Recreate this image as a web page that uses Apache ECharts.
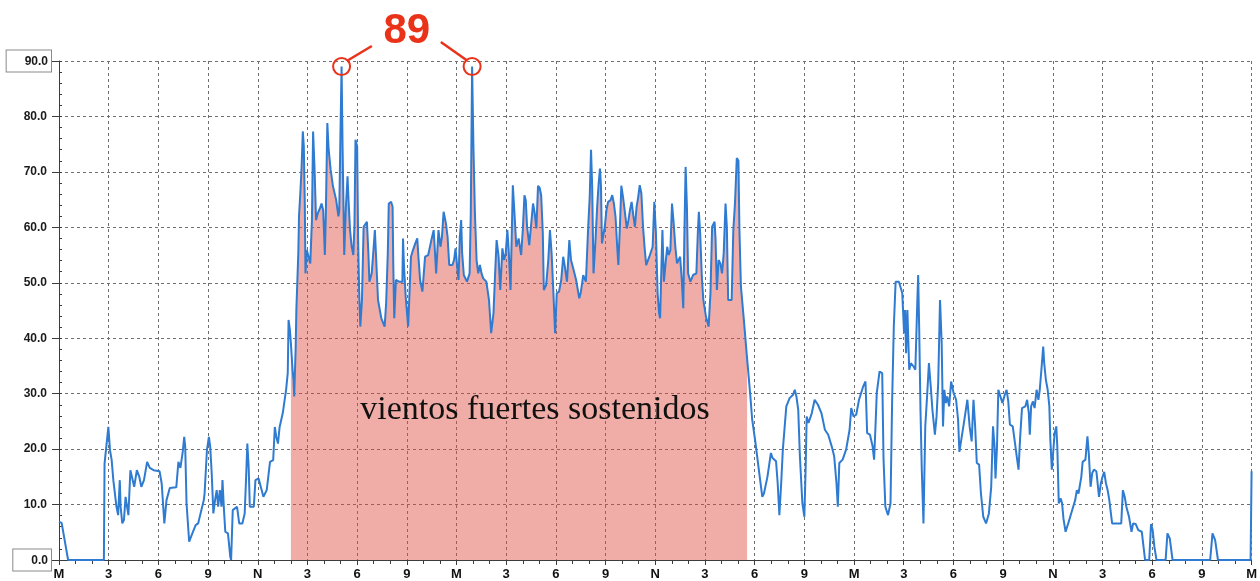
<!DOCTYPE html>
<html>
<head>
<meta charset="utf-8">
<script src="https://cdn.jsdelivr.net/npm/echarts@6/dist/echarts.min.js"></script>
<style>
html,body{margin:0;padding:0;background:#ffffff;}
#chart{width:1260px;height:581px;}
</style>
</head>
<body>
<div id="chart"></div>
<script>
// Time in hours from the first midnight (M), wind speed values
const HOURS = [
0,0.16,0.55,2.71,2.75,2.98,3.02,3.08,3.18,3.28,3.47,3.57,3.67,3.72,3.82,3.92,4.02,4.11,4.19,4.31,4.45,4.54,4.70,4.84,4.97,5.13,5.32,5.48,5.71,6.07,6.20,6.36,6.49,6.69,7.08,7.21,7.33,7.47,7.56,7.62,7.70,7.86,8.05,8.25,8.40,8.74,8.79,8.93,9.05,9.13,9.22,9.32,9.42,9.52,9.61,9.71,9.81,9.87,9.96,10.04,10.20,10.34,10.39,
10.49,10.75,10.88,11.07,11.21,11.29,11.37,11.45,11.52,11.76,11.86,12.05,12.34,12.54,12.74,12.93,13.03,13.12,13.22,13.32,13.51,13.71,13.81,13.86,13.94,14.00,14.10,14.16,14.20,14.29,14.33,
14.45,14.49,14.58,14.64,14.72,14.78,14.84,14.88,14.96,15.08,15.17,15.27,15.34,15.43,15.52,15.62,15.75,15.85,15.95,16.05,16.11,16.20,16.28,16.40,16.54,16.73,16.87,16.92,16.98,17.06,17.12,17.22,17.32,17.42,17.47,17.57,17.67,17.77,17.84,17.90,18.00,18.06,18.12,18.19,18.29,18.39,18.59,18.68,18.74,18.88,18.97,19.07,19.17,19.26,19.46,19.66,19.75,19.85,19.91,20.05,20.14,20.18,20.24,20.34,20.53,20.73,20.77,20.83,20.93,21.08,21.16,21.25,21.37,21.51,21.63,21.70,21.80,21.94,22.10,22.29,22.48,22.62,22.68,22.77,22.91,23.03,23.12,23.22,23.36,23.46,23.56,23.75,23.85,23.94,24.04,24.12,24.20,24.28,24.34,24.44,24.63,24.79,24.86,24.94,25.02,25.11,25.21,25.31,25.41,25.51,25.61,25.70,25.80,
25.96,26.09,26.23,26.33,26.42,26.54,26.64,26.77,26.87,26.97,27.07,27.16,27.26,27.40,27.51,27.61,27.75,27.90,28.00,28.10,28.18,28.26,28.39,28.49,28.62,28.72,28.82,28.92,29.02,29.11,29.21,29.27,29.41,29.54,29.64,29.74,29.85,29.95,30.05,30.19,30.32,30.44,30.54,30.67,30.81,30.91,31.02,31.22,31.41,31.51,31.65,31.81,31.94,32.04,32.12,32.19,32.27,32.39,32.49,32.58,32.66,32.72,32.78,32.86,32.95,33.05,33.15,33.30,33.40,33.50,33.60,33.70,33.77,33.87,33.95,34.05,34.15,34.28,34.38,34.47,34.57,34.67,34.77,34.87,34.97,35.06,35.16,35.26,35.35,35.45,35.64,35.84,35.94,36.04,36.14,36.23,36.29,36.37,36.43,36.52,36.62,36.72,36.81,36.91,37.01,37.11,37.21,37.31,37.40,37.50,37.60,37.69,37.75,37.83,37.91,37.98,38.12,38.28,38.48,38.57,38.63,38.71,38.81,38.90,
39.06,39.22,39.33,39.43,39.58,39.64,39.72,39.82,39.93,40.03,40.13,40.24,40.32,40.40,40.61,40.71,40.81,40.92,41.02,41.08,41.17,41.33,41.54,41.74,41.85,42.05,42.25,42.46,42.56,42.77,42.98,43.08,43.29,43.39,43.49,43.60,43.70,43.91,44.11,44.32,44.42,44.52,44.63,44.73,44.88,45.00,45.08,45.14,45.25,45.45,45.62,45.82,46.03,46.24,46.44,46.65,46.80,46.94,47.02,47.11,47.31,47.52,47.62,47.73,47.83,47.97,48.13,48.30,48.55,48.69,48.79,48.96,49.12,49.21,49.31,49.37,49.54,49.70,49.78,49.89,50.05,50.20,50.30,50.40,50.51,50.71,50.91,51.02,51.08,51.14,51.22,51.33,51.43,51.59,51.70,51.81,51.87,51.93,52.01,52.09,52.19,52.30,52.42,52.52,52.63,52.73,52.88,52.98,53.08,53.19,53.29,53.37,53.45,53.54,53.62,53.74,53.86,54.01,54.16,54.28,54.36,54.42,54.63,54.84,54.98,55.10,55.21,55.31,55.41,55.55,55.66,55.80,55.97,56.14,56.28,56.39,56.48,56.54,56.63,56.71,56.83,56.96,57.10,57.21,57.31,57.41,57.58,57.72,57.82,57.93,58.03,58.14,58.34,58.45,58.55,58.61,58.69,58.80,58.90,59.02,59.13,59.21,59.31,59.42,59.48,59.58,59.69,59.79,59.85,59.94,60.02,60.11,60.21,60.27,60.36,60.48,60.56,60.64,60.77,60.93,61.14,61.35,61.45,61.55,61.72,61.80,61.97,62.09,62.17,62.28,62.38,62.48,62.63,62.79,62.90,63.00,63.10,63.21,63.31,63.41,63.58,64.13,64.23,64.34,64.44,64.60,64.75,64.85,65.00,65.16,65.37,65.57,65.82,65.93,66.03,66.13,66.26,66.81,66.92,67.06,67.23,69.50,69.64,69.80,69.97,71.94,72
];
const SPEED = [
6.9,6.7,0,0,17.4,24,24.1,19.8,18,14.4,9.6,8.1,14.4,9.6,6.6,7.2,11.4,9.6,8.1,16.2,14.4,13.2,16.2,15.1,13.2,14.4,17.7,16.6,16.2,16,13.8,6.6,10.8,13,13.1,17.7,16.6,19.5,22.2,20.4,10.2,3.3,4.8,6.3,6.6,10.8,12,19.8,22.2,20.4,15.6,8.4,10.8,12.6,9.6,12.6,9.6,14.4,9,5.1,4.8,0.6,0,
9,9.6,6.6,6.6,8.4,14.4,21,16.8,9.6,9.6,14.4,14.7,11.4,12.6,17.7,18,24,22.2,21,24,26.5,30.7,33.7,43.3,41.5,39.1,34.3,32.5,29.5,38.5,45.1,
55.6,62,66.8,70.4,77.3,74.6,64.3,51.7,55.9,56.2,53.5,61.3,77.3,70.4,61.3,62.5,63.4,64.3,63.1,55,62.5,78.8,74,70.4,67.4,65,62,63,74.6,89,74.6,55,63.7,69.2,65.5,59.5,56.5,55,60.7,75.8,74.6,57.7,48.7,42.1,46.9,60.1,61,55.3,50.2,51.7,55.3,59.5,52.9,46.9,43.6,42.1,46.3,55.3,64.3,64.6,63.7,53.5,43.6,50.5,50.2,50.2,58,52.9,47.5,42.1,48.1,54.7,55.9,57.1,58,54.7,50.5,48.4,54.7,55,57.7,59.5,56.5,51.7,59.5,56.5,58.3,62.8,60.7,58.3,53.2,53.2,54.1,56.2,52.9,50.5,58.3,61.3,55.3,51.4,50.2,51.7,62.5,89,74.6,62.5,54.1,51.7,53.2,51.7,50.8,51,50.2,
46.9,40.9,44.5,51.7,57.7,54.7,48.7,56.2,54.1,55.3,59.5,55.3,48.7,67.6,61.9,56.5,58,55,59.5,65.8,64.9,60.1,56.8,56.5,64.3,62.5,59.8,67.5,67.1,65.8,58.9,48.7,49.6,54.1,59.5,55.3,48.1,40.9,48.1,48.4,50.5,54.7,52.9,50.2,57.7,54.1,52.9,50.5,47.2,48.4,51.4,50.2,59.5,65.5,74,67.3,51.7,57.7,63.7,67.9,70.6,67.5,57.1,56.8,60.1,63.1,64.6,64.9,65.8,64.3,61.9,56.5,53.2,60.7,67.5,65.5,63.1,59.8,61.3,63.1,64.6,62.2,60.1,63.7,65.5,67.6,66.1,60.1,56.5,53.2,54.7,56.5,64.6,58.9,48.1,44.5,43.6,52.9,59.5,50.2,53.5,56.5,55,55.9,64.3,60.7,56.5,53.5,54.1,54.7,50.5,45.4,57.7,70.9,63.7,51.7,50.2,51.4,51.7,59.2,62.8,58.9,51.1,46.9,
43.9,42.1,48.1,60.1,61,57.7,48.7,54.1,53.5,51.7,55.3,64.3,60.1,46.9,46.9,59.5,64.3,72.5,72,59.5,49.3,43.9,36.4,29.5,25.3,21.1,16.3,11.4,12,15,19.3,18.4,17.8,13.8,8.1,13.8,19.9,27.7,29.2,29.8,30.7,29.5,27.1,18.7,10.2,7.8,16.9,25.9,24.7,26.5,28.9,28,26.5,23.5,22.6,20.5,18.7,13.8,9.6,17.5,18.1,19.9,21.6,23.5,27.4,25.9,26.2,28.9,31.3,32.2,22.9,22.6,20.5,18.1,25.3,30.1,34,33.7,18.1,9.6,8.1,10.2,28.9,42.1,50.2,50.2,48.1,40.9,45.1,37.3,45.1,34.3,35.5,34.9,34.3,45.7,51.4,42.1,27.1,16.2,6.6,24.1,30.1,35.5,31.3,27.1,22.6,25.9,31.9,46.9,39.1,24.1,30.7,28.3,29.5,27.7,32.2,30.1,28.9,25.3,19.5,19.7,24.7,28.9,24,21.4,28.9,24.1,17.5,17.2,12,7.8,6.6,8.4,13.2,24.1,20.5,14.7,20.5,30.7,30.4,28.3,29.8,30.7,28.6,24.4,24.1,21,18.7,16.3,22.3,27.4,27.7,28.9,26.5,22.6,27.7,28.6,27.4,30.7,28.9,30.7,34.3,38.5,35.5,32.5,30.7,27.7,21.7,16.3,19.3,22.9,24.1,20.5,10.2,11.1,10.2,7.5,5.1,6.6,8.7,10.8,12.6,12,15,17.7,18.1,22.3,19.3,13.2,15.7,16.3,16,11.4,13.8,15,15.9,13.8,12.6,10.8,6.6,6.6,12.6,11.4,9.6,7.8,5.1,6.6,6.5,5.4,5.1,0,0,6.5,5.4,2.4,0,0,4.8,3.9,0,0,4.8,3.6,0,0,16
];
const X_TICK_LABELS = ['M','3','6','9','N','3','6','9'];
const BOXED_Y_VALUES = [0, 90];
const SUSTAINED_START = 14.0;
const SUSTAINED_END = 41.54;
const SUSTAINED_TEXT = 'vientos fuertes sostenidos';
const PEAK_VALUE = 89;
const PEAK_HOURS = [17.06, 24.94];
const PEAK_LABEL = '89';

const lineData = HOURS.map((h, i) => [h, SPEED[i]]);
const areaData = lineData.filter(d => d[0] >= SUSTAINED_START && d[0] <= SUSTAINED_END);

const RED = '#ea3219';
const GRID_LINE = {show: true, lineStyle: {color: '#6f6f6f', width: 1, type: [3, 3]}};
const AXIS_COLOR = '#3c3c3c';

const chart = echarts.init(document.getElementById('chart'), null, {renderer: 'canvas'});
chart.setOption({
  animation: false,
  backgroundColor: '#ffffff',
  grid: {left: 59, right: 1, top: 61, bottom: 21, containLabel: false},
  xAxis: {
    type: 'value', min: 0, max: 72, interval: 3,
    axisLine: {show: true, lineStyle: {color: AXIS_COLOR, width: 1}},
    axisTick: {show: true, length: 5, lineStyle: {color: AXIS_COLOR}},
    minorTick: {show: true, splitNumber: 3, length: 4, lineStyle: {color: AXIS_COLOR}},
    axisLabel: {
      show: true, margin: 8, showMinLabel: true, showMaxLabel: true,
      fontFamily: 'Liberation Sans', fontWeight: 'bold', fontSize: 13, color: '#111',
      formatter: v => X_TICK_LABELS[Math.round(v / 3) % X_TICK_LABELS.length]
    },
    splitLine: GRID_LINE
  },
  yAxis: [{
    type: 'value', min: 0, max: 90, interval: 10,
    axisLine: {show: true, lineStyle: {color: AXIS_COLOR, width: 1}},
    axisTick: {show: true, length: 7, lineStyle: {color: AXIS_COLOR}},
    axisLabel: {
      show: true, margin: 8,
      formatter: v => (BOXED_Y_VALUES.includes(v) ? '{box|' : '{plain|') + v.toFixed(1) + '}',
      rich: {
        plain: {fontFamily: 'Liberation Sans', fontWeight: 'bold', fontSize: 12, color: '#1a1a1a', padding: [0, 4, 0, 0]},
        box: {fontFamily: 'Liberation Sans', fontWeight: 'bold', fontSize: 12, color: '#1a1a1a',
              borderColor: '#8a8a8a', borderWidth: 1, padding: [5, 3, 4, 18], backgroundColor: '#ffffff'}
      }
    },
    splitLine: GRID_LINE
  }, {
    type: 'value', min: 0, max: 90, interval: 2, position: 'left',
    axisLine: {show: false},
    axisTick: {show: true, inside: true, length: 3, lineStyle: {color: AXIS_COLOR}},
    axisLabel: {show: false},
    splitLine: {show: false}
  }],
  series: [{
    type: 'line',
    name: 'sostenidos',
    data: areaData,
    yAxisIndex: 0,
    symbol: 'none',
    silent: true,
    lineStyle: {width: 0, opacity: 0},
    areaStyle: {color: 'rgba(222,70,58,0.45)', opacity: 1},
    z: 1
  }, {
    type: 'line',
    name: 'viento',
    data: lineData,
    yAxisIndex: 0,
    symbol: 'none',
    lineStyle: {color: '#2f7bd1', width: 2},
    z: 3,
    markPoint: {
      symbol: 'circle',
      symbolSize: 17,
      silent: true,
      itemStyle: {color: 'rgba(0,0,0,0)', borderColor: RED, borderWidth: 2},
      label: {show: false},
      data: PEAK_HOURS.map(h => ({coord: [h, PEAK_VALUE]}))
    }
  }]
});

const p1 = chart.convertToPixel({gridIndex: 0}, [PEAK_HOURS[0], PEAK_VALUE]);
const p2 = chart.convertToPixel({gridIndex: 0}, [PEAK_HOURS[1], PEAK_VALUE]);
const midX = (p1[0] + p2[0]) / 2;
const labelY = 31;

chart.setOption({
  graphic: [
    {type: 'line', z: 100, shape: {x1: p1[0] + 6, y1: p1[1] - 6, x2: midX - 35, y2: labelY + 15},
     style: {stroke: RED, lineWidth: 2.5}},
    {type: 'line', z: 100, shape: {x1: midX + 34, y1: labelY + 11, x2: p2[0] - 5, y2: p2[1] - 6},
     style: {stroke: RED, lineWidth: 2.5}},
    {type: 'text', z: 101, x: midX, y: labelY,
     style: {text: PEAK_LABEL, font: 'bold 42px "Liberation Sans", Arial, sans-serif',
             fill: RED, stroke: '#ffffff', lineWidth: 4,
             align: 'center', verticalAlign: 'middle', textAlign: 'center', textVerticalAlign: 'middle',
             shadowBlur: 3, shadowColor: 'rgba(0,0,0,0.35)', shadowOffsetY: 1}},
    {type: 'text', z: 90, x: 535, y: 410,
     style: {text: SUSTAINED_TEXT, font: '34px "Liberation Serif", "Times New Roman", serif',
             fill: '#111111', align: 'center', verticalAlign: 'middle', textAlign: 'center', textVerticalAlign: 'middle'}}
  ]
});
</script>
</body>
</html>
